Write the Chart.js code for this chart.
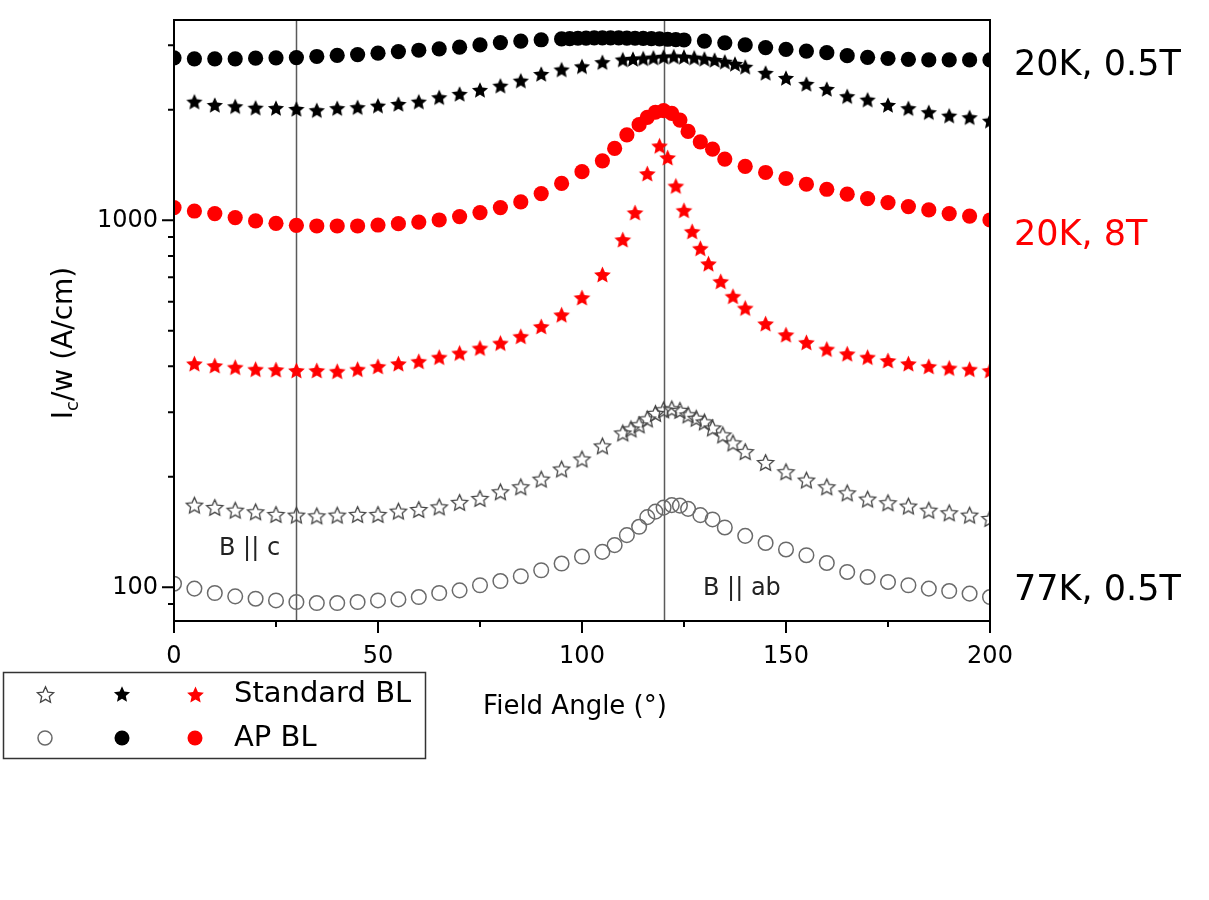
<!DOCTYPE html>
<html><head><meta charset="utf-8">
<script src="https://cdn.jsdelivr.net/npm/chart.js@4.4.1/dist/chart.umd.min.js"></script>
<style>
html,body{margin:0;padding:0;background:#fff;}
#wrap{position:relative;width:1209px;height:900px;}
canvas{display:block;}
</style></head><body>
<div id="wrap"><canvas id="c" width="1209" height="900"></canvas></div>
<script>
// ---------- data ----------
const apBL20K05T_angle = [0,5,10,15,20,25,30,35,40,45,50,55,60,65,70,75,80,85,90,95,97,99,101,103,105,107,109,111,113,115,117,119,121,123,125,130,135,140,145,150,155,160,165,170,175,180,185,190,195,200];
const apBL20K05T_ic = [2771,2754,2754,2754,2765,2771,2776,2795,2813,2829,2853,2883,2907,2932,2963,3006,3050,3079,3104,3120,3128,3134,3138,3141,3143,3143,3141,3138,3134,3130,3125,3120,3114,3108,3100,3079,3046,3006,2956,2922,2892,2863,2810,2780,2760,2745,2735,2735,2735,2735];

const std20K05T_angle = [5,10,15,20,25,30,35,40,45,50,55,60,65,70,75,80,85,90,95,100,105,110,112.5,115,117.5,120,122.5,125,127.5,130,132.5,135,137.5,140,145,150,155,160,165,170,175,180,185,190,195,200];
const std20K05T_ic = [2105,2062,2045,2027,2023,2011,1995,2021,2033,2053,2075,2105,2164,2210,2266,2327,2402,2505,2575,2627,2697,2742,2752,2762,2775,2789,2795,2789,2775,2754,2735,2705,2668,2620,2521,2443,2353,2280,2178,2132,2062,2020,1970,1928,1909,1868];

const apBL20K8T_angle = [0,5,10,15,20,25,30,35,40,45,50,55,60,65,70,75,80,85,90,95,100,105,108,111,114,116,118,120,122,124,126,129,132,135,140,145,150,155,160,165,170,175,180,185,190,195,200];
const apBL20K8T_ic = [1083,1060,1043,1017,996,981,969,965,965,965,971,979,989,1002,1024,1050,1083,1122,1183,1260,1357,1452,1570,1710,1822,1908,1970,1989,1957,1876,1747,1636,1563,1468,1402,1350,1300,1254,1215,1178,1146,1118,1090,1067,1043,1027,1002];

const std20K8T_angle = [5,10,15,20,25,30,35,40,45,50,55,60,65,70,75,80,85,90,95,100,105,110,113,116,119,121,123,125,127,129,131,134,137,140,145,150,155,160,165,170,175,180,185,190,195,200];
const std20K8T_ic = [407,402,398,393,392,390,390,388,393,400,407,413,424,435,449,463,483,514,553,616,712,886,1050,1341,1596,1483,1241,1065,933,839,762,682,621,577,523,488,465,446,433,424,415,407,400,396,393,390];

const std77K05T_angle = [5,10,15,20,25,30,35,40,45,50,55,60,65,70,75,80,85,90,95,100,105,110,112,114,116,118,120,122,124,126,128,130,132,134.5,137,140,145,150,155,160,165,170,175,180,185,190,195,200];
const std77K05T_ic = [167.5,165.1,162.3,160.6,158,157.3,156.6,157.3,158,158,161.3,163,165.7,170.4,174.7,182.1,187.9,197.2,210.1,223.7,242.8,263.5,270.2,277.1,287.7,297.9,304.5,306.4,303.5,295.1,288.9,282.3,271.9,260.2,247.4,234.3,218.9,206.5,196,187.9,180.9,174,170,166.5,162.3,159.6,157.3,154];

const apBL77K05T_angle = [0,5,10,15,20,25,30,35,40,45,50,55,60,65,70,75,80,85,90,95,100,105,108,111,114,116,118,120,122,124,126,129,132,135,140,145,150,155,160,165,170,175,180,185,190,195,200];
const apBL77K05T_ic = [102.3,99.2,96.5,94.5,93.1,92.1,91.2,90.6,90.6,91.2,92.1,92.7,94.1,96.5,98.1,101.3,104,107.2,111.3,116.1,121.3,124.9,130.3,138.7,146.2,155.3,160.8,164.9,167.5,167,163.6,157.3,153.1,145.6,138.1,132.1,126.8,122.3,116.5,110.1,106.7,103.4,101.3,99.2,97.7,96.1,94.1];

const xTickLabels = [0,50,100,150,200];
const xMinorTicks = [25,75,125,175];
const yTickLabels = [100,1000];
const yMinorTicks = [90,200,300,400,500,600,700,800,900,2000,3000];
const refAngles = [30,120];
const refLabels = ["B || c","B || ab"];
const conditionLabels = ["20K, 0.5T","20K, 8T","77K, 0.5T"];
const legendRows = ["Standard BL","AP BL"];

// ---------- markers ----------
function starCanvas(R, inner, fill, stroke, lw){
  const s = Math.ceil(2*R + 2*lw + 3);
  const c = document.createElement('canvas'); c.width = s; c.height = s;
  const g = c.getContext('2d');
  g.translate(s/2, s/2 + R*0.1);
  g.beginPath();
  for (let i=0;i<10;i++){
    const r = i%2===0 ? R : R*inner;
    const a = -Math.PI/2 + i*Math.PI/5;
    g.lineTo(r*Math.cos(a), r*Math.sin(a));
  }
  g.closePath();
  if (fill){ g.fillStyle=fill; g.fill(); }
  if (stroke){ g.strokeStyle=stroke; g.lineWidth=lw; g.stroke(); }
  return c;
}
const starBlack = starCanvas(8.5, 0.47, '#000', null, 0);
const starRed = starCanvas(8.8, 0.47, '#ff0000', null, 0);
const starOpen = starCanvas(8.5, 0.47, null, '#444', 1.3);

const pts = (a, v) => a.map((x,i)=>({x:x, y:v[i]}));

const datasets = [
  {label:'77K AP BL', data:pts(apBL77K05T_angle, apBL77K05T_ic), pointStyle:'circle', pointRadius:7.3, pointBackgroundColor:'rgba(0,0,0,0)', pointBorderColor:'#6a6a6a', pointBorderWidth:1.5},
  {label:'77K Standard BL', data:pts(std77K05T_angle, std77K05T_ic), pointStyle:starOpen},
  {label:'20K 8T Standard BL', data:pts(std20K8T_angle, std20K8T_ic), pointStyle:starRed},
  {label:'20K 8T AP BL', data:pts(apBL20K8T_angle, apBL20K8T_ic), pointStyle:'circle', pointRadius:7.6, pointBackgroundColor:'#ff0000', pointBorderWidth:0},
  {label:'20K 0.5T Standard BL', data:pts(std20K05T_angle, std20K05T_ic), pointStyle:starBlack},
  {label:'20K 0.5T AP BL', data:pts(apBL20K05T_angle, apBL20K05T_ic), pointStyle:'circle', pointRadius:7.6, pointBackgroundColor:'#000', pointBorderWidth:0}
].map(d=>Object.assign({showLine:false, clip:0, pointHoverRadius:d.pointRadius||7}, d));

const FONT = 'DejaVu Sans';

const deco = {
  id:'deco',
  beforeDatasetsDraw(chart){
    const {ctx, chartArea:a, scales:{x}} = chart;
    ctx.save();
    ctx.strokeStyle='#5a5a5a'; ctx.lineWidth=1.5;
    refAngles.forEach(v=>{
      const px = Math.round(x.getPixelForValue(v))+0.5;
      ctx.beginPath(); ctx.moveTo(px,a.top); ctx.lineTo(px,a.bottom); ctx.stroke();
    });
    ctx.restore();
  },
  afterDraw(chart){
    const {ctx, chartArea:a, scales:{x,y}} = chart;
    ctx.save();
    // frame
    ctx.strokeStyle='#000'; ctx.lineWidth=2;
    ctx.strokeRect(a.left, a.top, a.right-a.left, a.bottom-a.top);
    // ticks
    ctx.beginPath();
    xTickLabels.forEach(v=>{const p=x.getPixelForValue(v); ctx.moveTo(p,a.bottom); ctx.lineTo(p,a.bottom+12);});
    xMinorTicks.forEach(v=>{const p=x.getPixelForValue(v); ctx.moveTo(p,a.bottom); ctx.lineTo(p,a.bottom+6);});
    yTickLabels.forEach(v=>{const p=y.getPixelForValue(v); ctx.moveTo(a.left,p); ctx.lineTo(a.left-12,p);});
    yMinorTicks.forEach(v=>{const p=y.getPixelForValue(v); ctx.moveTo(a.left,p); ctx.lineTo(a.left-6,p);});
    ctx.stroke();

    ctx.fillStyle='#000';
    ctx.textBaseline='middle';
    // reference line labels
    ctx.font = '24px "'+FONT+'"';
    ctx.textAlign='left';
    ctx.fillStyle='#222';
    ctx.fillText(refLabels[0], 219, 549);
    ctx.fillText(refLabels[1], 703, 589);

    // condition labels on the right
    ctx.font = '35px "'+FONT+'"';
    ctx.fillStyle='#000';
    ctx.fillText(conditionLabels[0], 1014, 66);
    ctx.fillStyle='#ff0000';
    ctx.fillText(conditionLabels[1], 1014, 236);
    ctx.fillStyle='#000';
    ctx.fillText(conditionLabels[2], 1014, 591);

    // x title
    ctx.font = '26px "'+FONT+'"';
    ctx.textAlign='center';
    ctx.fillText('Field Angle (°)', 575, 707);

    // y title (rotated, with subscript)
    ctx.save();
    ctx.translate(62, 343);
    ctx.rotate(-Math.PI/2);
    const f1 = '28px "'+FONT+'"', f2 = '18px "'+FONT+'"';
    ctx.font=f1; const wI = ctx.measureText('I').width; const wRest = ctx.measureText('/w (A/cm)').width;
    ctx.font=f2; const wc = ctx.measureText('c').width;
    let sx = -(wI+wc+wRest)/2;
    ctx.textAlign='left'; ctx.textBaseline='alphabetic';
    ctx.font=f1; ctx.fillText('I', sx, 10); sx+=wI;
    ctx.font=f2; ctx.fillText('c', sx, 16); sx+=wc;
    ctx.font=f1; ctx.fillText('/w (A/cm)', sx, 10);
    ctx.restore();

    // legend box
    ctx.strokeStyle='#333'; ctx.lineWidth=1.5;
    ctx.strokeRect(3.5, 672.5, 422, 86);
    const r1 = 694, r2 = 738;
    const drawImg = (img, cx, cy) => ctx.drawImage(img, Math.round(cx - img.width/2), Math.round(cy - img.height/2));
    drawImg(starOpen, 45, r1); drawImg(starBlack, 122, r1); drawImg(starRed, 195, r1);
    ctx.lineWidth=1.5; ctx.strokeStyle='#6a6a6a';
    ctx.beginPath(); ctx.arc(45, r2, 7, 0, Math.PI*2); ctx.stroke();
    ctx.fillStyle='#000'; ctx.beginPath(); ctx.arc(122, r2, 7.5, 0, Math.PI*2); ctx.fill();
    ctx.fillStyle='#ff0000'; ctx.beginPath(); ctx.arc(195, r2, 7.5, 0, Math.PI*2); ctx.fill();
    ctx.fillStyle='#000';
    ctx.font = '29px "'+FONT+'"';
    ctx.textAlign='left'; ctx.textBaseline='middle';
    ctx.fillText(legendRows[0], 234, r1);
    ctx.fillText(legendRows[1], 234, r2);
    ctx.restore();
  }
};

new Chart(document.getElementById('c'), {
  type:'scatter',
  data:{datasets},
  options:{
    responsive:false, animation:false, devicePixelRatio:1,
    layout:{padding:{left:0, right:219, top:20, bottom:0}},
    plugins:{legend:{display:false}, tooltip:{enabled:false}},
    scales:{
      x:{
        type:'linear', min:0, max:200,
        afterFit(s){ s.height = 279; },
        afterBuildTicks(s){ s.ticks = xTickLabels.map(v=>({value:v})); },
        grid:{display:false, drawTicks:true, tickLength:12},
        border:{display:false},
        ticks:{font:{family:FONT, size:24}, color:'#000', padding:9, maxRotation:0, autoSkip:false, callback:v=>String(v)}
      },
      y:{
        type:'logarithmic', min:80.95, max:3514,
        afterFit(s){ s.width = 174; },
        afterBuildTicks(s){ s.ticks = yTickLabels.map(v=>({value:v})); },
        grid:{display:false, drawTicks:true, tickLength:12},
        border:{display:false},
        ticks:{font:{family:FONT, size:24}, color:'#000', padding:4, autoSkip:false, callback:v=>String(v)}
      }
    }
  },
  plugins:[deco]
});
</script>
</body></html>
